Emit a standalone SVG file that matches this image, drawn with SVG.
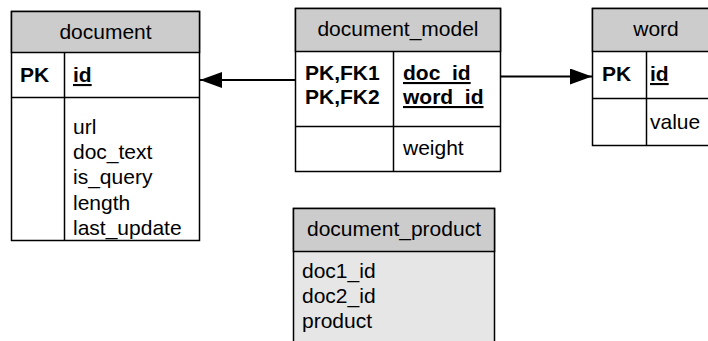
<svg xmlns="http://www.w3.org/2000/svg" width="708" height="341" viewBox="0 0 708 341">
<defs>
<style>
.box{fill:#ffffff;stroke:#000;stroke-width:1.5}
.hdr{fill:#cccccc;stroke:#000;stroke-width:1.5}
.body2{fill:#e6e6e6;stroke:#000;stroke-width:1.5}
.ln{stroke:#000;stroke-width:1.5;fill:none}
text{font-family:"Liberation Sans",Arial,sans-serif;font-size:21px;fill:#000}
.h{text-anchor:middle}
.b{font-weight:bold}
.u{text-decoration:underline}
.conn{stroke:#000;stroke-width:2;fill:none}
</style>
<marker id="arr" viewBox="0 0 22 16" refX="22" refY="8" markerWidth="22" markerHeight="16" markerUnits="userSpaceOnUse" orient="auto">
<path d="M0,0 L22,8 L0,16 Z" fill="#000"/>
</marker>
</defs>
<g id="document">
<rect class="box" x="11.5" y="11.5" width="188" height="229"/>
<rect class="hdr" x="11.5" y="11.5" width="188" height="41"/>
<line class="ln" x1="11.5" y1="97.5" x2="199.5" y2="97.5"/>
<line class="ln" x1="64.5" y1="52.5" x2="64.5" y2="240.5"/>
<text class="h" x="105.5" y="39">document</text>
<text class="b" x="20" y="82">PK</text>
<text class="b u" x="73" y="82">id</text>
<text x="73" y="134">url</text>
<text x="73" y="159">doc_text</text>
<text x="73" y="184">is_query</text>
<text x="73" y="210">length</text>
<text x="73" y="235">last_update</text>
</g>
<g id="document_model">
<rect class="box" x="295.5" y="8.5" width="205" height="163"/>
<rect class="hdr" x="295.5" y="8.5" width="205" height="43"/>
<line class="ln" x1="295.5" y1="126.5" x2="500.5" y2="126.5"/>
<line class="ln" x1="393.5" y1="51.5" x2="393.5" y2="171.5"/>
<text class="h" x="398" y="36">document_model</text>
<text class="b" x="305" y="80">PK,FK1</text>
<text class="b" x="305" y="104">PK,FK2</text>
<text class="b u" x="403" y="80">doc_id</text>
<text class="b u" x="403" y="104">word_id</text>
<text x="403" y="155">weight</text>
</g>
<g id="word">
<rect class="box" x="592.5" y="8.5" width="128" height="137"/>
<rect class="hdr" x="592.5" y="8.5" width="128" height="43"/>
<line class="ln" x1="592.5" y1="98.5" x2="720.5" y2="98.5"/>
<line class="ln" x1="646.5" y1="51.5" x2="646.5" y2="145.5"/>
<text class="h" x="656" y="36">word</text>
<text class="b" x="602" y="81">PK</text>
<text class="b u" x="650" y="81">id</text>
<text x="650" y="129">value</text>
</g>
<g id="document_product">
<rect class="body2" x="293.5" y="208.5" width="201" height="140"/>
<rect class="hdr" x="293.5" y="208.5" width="201" height="43"/>
<text class="h" x="394" y="236">document_product</text>
<text x="302" y="278">doc1_id</text>
<text x="302" y="303">doc2_id</text>
<text x="302" y="328">product</text>
</g>
<g id="connectors">
<line class="conn" x1="295" y1="80" x2="200" y2="80" marker-end="url(#arr)"/>
<line class="conn" x1="500" y1="76.5" x2="592" y2="76.5" marker-end="url(#arr)"/>
</g>
</svg>
